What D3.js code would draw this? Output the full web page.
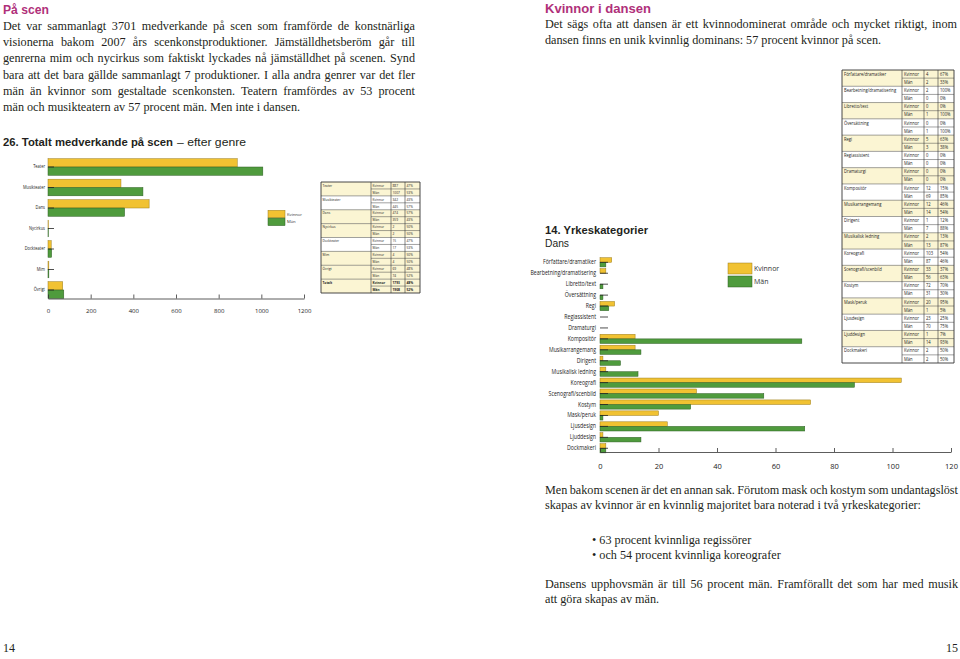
<!DOCTYPE html>
<html><head><meta charset="utf-8">
<script src="https://cdn.jsdelivr.net/npm/d3@7"></script>
<style>body{margin:0;background:#fff}svg{display:block}</style></head>
<body><svg id="c" width="960" height="659"></svg>
<script>
// ---------- DATA ----------
const genres = ["Teater","Musikteater","Dans","Nycirkus","Dockteater","Mim","Övrigt"];
const genreWomen = [887,342,474,2,15,4,69];
const genreMen = [1007,445,359,2,17,4,74];
const genreWomenPct = ["47%","43%","57%","50%","47%","50%","48%"];
const genreMenPct = ["53%","57%","43%","50%","53%","50%","52%"];
const genreTotal = {label:"Totalt", women:1793, men:1908, womenPct:"48%", menPct:"52%"};
const genreTicks = [0,200,400,600,800,1000,1200];

const occupations = ["Författare/dramatiker","Bearbetning/dramatisering","Libretto/text","Översättning","Regi","Regiassistent","Dramaturgi","Kompositör","Musikarrangemang","Dirigent","Musikalisk ledning","Koreografi","Scenografi/scenbild","Kostym","Mask/peruk","Ljusdesign","Ljuddesign","Dockmakeri"];
const occWomen = [4,2,0,0,5,0,0,12,12,1,2,103,33,72,20,23,1,2];
const occMen = [2,0,1,1,3,0,0,69,14,7,13,87,56,31,1,70,14,2];
const occWomenPct = ["67%","100%","0%","0%","63%","0%","0%","15%","46%","12%","13%","54%","37%","70%","95%","25%","7%","50%"];
const occMenPct = ["33%","0%","100%","100%","38%","0%","0%","85%","54%","88%","87%","46%","63%","30%","5%","75%","93%","50%"];
const occTicks = [0,20,40,60,80,100,120];

const seriesNames = ["Kvinnor","Män"];

const leftText = [
 "Det var sammanlagt 3701 medverkande på scen som framförde de konstnärliga",
 "visionerna bakom 2007 års scenkonstproduktioner. Jämställdhetsberöm går till",
 "genrerna mim och nycirkus som faktiskt lyckades nå jämställdhet på scenen. Synd",
 "bara att det bara gällde sammanlagt 7 produktioner. I alla andra genrer var det fler",
 "män än kvinnor som gestaltade scenkonsten. Teatern framfördes av 53 procent",
 "män och musikteatern av 57 procent män. Men inte i dansen."];
const rightText1 = [
 "Det sägs ofta att dansen är ett kvinnodominerat område och mycket riktigt, inom",
 "dansen finns en unik kvinnlig dominans: 57 procent kvinnor på scen."];
const rightText2 = [
 "Men bakom scenen är det en annan sak. Förutom mask och kostym som undantagslöst",
 "skapas av kvinnor är en kvinnlig majoritet bara noterad i två yrkeskategorier:"];
const bullets = ["63 procent kvinnliga regissörer","och 54 procent kvinnliga koreografer"];
const rightText3 = [
 "Dansens upphovsmän är till 56 procent män. Framförallt det som har med musik",
 "att göra skapas av män."];

// ---------- STYLE ----------
const SERIF = "'Liberation Serif','DejaVu Serif',serif";
const SANS = "'Open Sans','Noto Sans',sans-serif";
const HEAD = "'Liberation Sans','DejaVu Sans',sans-serif";
const MAG = "#b0307a";
const YEL = "#f1c232", YEL_S = "#9a7d1c";
const GRN = "#4f9b3d", GRN_S = "#2c5e22";
const INK = "#231f20";

const svg = d3.select("#c");
svg.append("rect").attr("width",960).attr("height",659).attr("fill","#fff");

function condense(sel, f){
  sel.each(function(){
    const L = this.getComputedTextLength();
    if(L>0) d3.select(this).attr("textLength", L*f).attr("lengthAdjust","spacingAndGlyphs");
  });
}
function para(lines, x, y0, lh, w, size, justifyLast){
  lines.forEach((s,i)=>{
    const t = svg.append("text").attr("x",x).attr("y",y0+i*lh)
      .attr("font-family",SERIF).attr("font-size",size).attr("fill",INK).text(s);
    if(i<lines.length-1 || justifyLast){
      const len = t.node().getComputedTextLength();
      const n = (s.match(/ /g)||[]).length;
      if(n>0) t.style("word-spacing", ((w-len)/n)+"px");
    }
  });
}
function heading(txt,x,y,w,size){
  svg.append("text").attr("x",x).attr("y",y).attr("font-family",HEAD).attr("font-weight",700)
    .attr("font-size",size).attr("fill",MAG).attr("textLength",w).attr("lengthAdjust","spacingAndGlyphs").text(txt);
}

// ---------- TEXT ----------
heading("På scen",3,14,46,13);
para(leftText,3,29.8,16.3,412,12.2,false);
heading("Kvinnor i dansen",545,13,106,13);
para(rightText1,545,28.3,16,412,12.2,false);
para(rightText2,545,494,15.3,413,12.2,false);
bullets.forEach((b,i)=>svg.append("text").attr("x",592).attr("y",544+i*14.5)
  .attr("font-family",SERIF).attr("font-size",12.2).attr("fill",INK).text("• "+b));
para(rightText3,545,587.5,15.3,413,12.2,false);
svg.append("text").attr("x",3).attr("y",652).attr("font-family",SERIF).attr("font-size",12).attr("fill",INK).text("14");
svg.append("text").attr("x",958).attr("y",652).attr("text-anchor","end").attr("font-family",SERIF).attr("font-size",12).attr("fill",INK).text("15");

// chart titles
svg.append("text").attr("x",3).attr("y",145.5).attr("font-family",HEAD).attr("font-size",11.5).attr("font-weight",700).attr("fill",INK)
  .attr("textLength",170).attr("lengthAdjust","spacingAndGlyphs").text("26. Totalt medverkande på scen");
svg.append("text").attr("x",177).attr("y",145.5).attr("font-family",HEAD).attr("font-size",11.5).attr("font-weight",400).attr("fill",INK)
  .attr("textLength",69).attr("lengthAdjust","spacingAndGlyphs").text("– efter genre");
svg.append("text").attr("x",545).attr("y",234.3).attr("font-family",HEAD).attr("font-size",11).attr("font-weight",700).attr("fill",INK)
  .attr("textLength",103).attr("lengthAdjust","spacingAndGlyphs").text("14. Yrkeskategorier");
svg.append("text").attr("x",545).attr("y",247.2).attr("font-family",HEAD).attr("font-size",11).attr("font-weight",400).attr("fill",INK)
  .attr("textLength",24).attr("lengthAdjust","spacingAndGlyphs").text("Dans");

// ---------- BAR CHART helper ----------
function barChart(cfg){
  const g = svg.append("g");
  const x = d3.scaleLinear().domain(cfg.domain).range(cfg.xr);
  const y = d3.scaleBand().domain(cfg.cats).range(cfg.yr);
  const bh = y.bandwidth()*cfg.frac;
  const data = cfg.cats.map((c,i)=>({c, w:cfg.women[i], m:cfg.men[i]}));
  g.selectAll("rect.w").data(data).join("rect").attr("class","w")
    .attr("x",x(0)).attr("y",d=>y(d.c)+y.bandwidth()/2-bh).attr("width",d=>x(d.w)-x(0)).attr("height",bh)
    .attr("fill",YEL).attr("stroke",YEL_S).attr("stroke-width",0.5);
  g.selectAll("rect.m").data(data).join("rect").attr("class","m")
    .attr("x",x(0)).attr("y",d=>y(d.c)+y.bandwidth()/2).attr("width",d=>x(d.m)-x(0)).attr("height",bh)
    .attr("fill",GRN).attr("stroke",GRN_S).attr("stroke-width",0.5);
  const ya = g.append("g").attr("transform",`translate(${x(0)},0)`)
    .call(d3.axisLeft(y).tickSize(-cfg.yTick).tickPadding(cfg.yPad));
  ya.select(".domain").remove();
  ya.selectAll("line").attr("stroke","#222").attr("stroke-width",0.8);
  ya.selectAll("text").attr("font-family",SANS).attr("font-size",cfg.catSize).attr("fill","#222");
  condense(ya.selectAll("text"), cfg.cond);
  const xa = g.append("g").attr("transform",`translate(0,${cfg.axisY})`)
    .call(d3.axisBottom(x).tickValues(cfg.ticks).tickFormat(d3.format("d")).tickSize(-4).tickSizeOuter(0).tickPadding(cfg.xPad));
  xa.selectAll("path,line").attr("stroke","#333").attr("stroke-width",0.8);
  xa.selectAll("text").attr("font-family",SANS).attr("font-size",cfg.tickSize).attr("fill","#222");
  // legend
  const lg = svg.append("g");
  seriesNames.forEach((s,i)=>{
    lg.append("rect").attr("x",cfg.leg.x).attr("y",cfg.leg.y+i*cfg.leg.step).attr("width",cfg.leg.w).attr("height",cfg.leg.h)
      .attr("fill",i?GRN:YEL).attr("stroke",i?GRN_S:YEL_S).attr("stroke-width",0.5);
    lg.append("text").attr("x",cfg.leg.x+cfg.leg.w+2).attr("y",cfg.leg.y+i*cfg.leg.step+cfg.leg.h/2).attr("dy","0.35em")
      .attr("font-family",SANS).attr("font-size",cfg.leg.fs).attr("fill","#333").text(s);
  });
}

barChart({cats:genres, women:genreWomen, men:genreMen, domain:[0,1200], ticks:genreTicks,
  xr:[48,304], yr:[156.75,300.25], frac:0.405, axisY:298.5, yTick:6, yPad:3, catSize:4.5, cond:0.88,
  xPad:10, tickSize:6,
  leg:{x:268,y:210.3,w:17,h:7.5,step:7.8,fs:4.2}});

barChart({cats:occupations, women:occWomen, men:occMen, domain:[0,120], ticks:occTicks,
  xr:[600,951], yr:[256.83,453.75], frac:0.42, axisY:452, yTick:8, yPad:4, catSize:6.2, cond:0.84,
  xPad:12, tickSize:7.5,
  leg:{x:728,y:263,w:24,h:11,step:13,fs:7}});

// ---------- TABLES ----------
function table(cfg){
  const g = svg.append("g");
  const rows = [];
  cfg.cats.forEach((c,i)=>{
    rows.push({block:i, label:c, sex:"Kvinnor", v:cfg.women[i], p:cfg.wp[i], bold:cfg.boldLast && i===cfg.cats.length-1});
    rows.push({block:i, label:"", sex:"Män", v:cfg.men[i], p:cfg.mp[i], bold:cfg.boldLast && i===cfg.cats.length-1});
  });
  const y = d3.scaleBand().domain(d3.range(rows.length)).range([cfg.top,cfg.bottom]);
  const cx = cfg.cols;
  cfg.cats.forEach((c,i)=>{
    g.append("rect").attr("x",cx[0]).attr("y",y(2*i)).attr("width",cx[4]-cx[0]).attr("height",2*y.bandwidth())
      .attr("fill",cfg.cream[i]?"#fbf5d3":"#fff");
  });
  rows.forEach((r,i)=>{
    if(i===0) return;
    const full = i%2===0;
    g.append("line").attr("x1",full?cx[0]:cx[1]).attr("x2",cx[4]).attr("y1",y(i)).attr("y2",y(i))
      .attr("stroke","#444").attr("stroke-width",0.5);
  });
  cx.forEach((c,j)=>{
    g.append("line").attr("x1",c).attr("x2",c).attr("y1",cfg.top).attr("y2",cfg.bottom)
      .attr("stroke","#333").attr("stroke-width",j===0||j===4?0.9:0.6);
  });
  g.append("line").attr("x1",cx[0]).attr("x2",cx[4]).attr("y1",cfg.top).attr("y2",cfg.top).attr("stroke","#333").attr("stroke-width",0.9);
  g.append("line").attr("x1",cx[0]).attr("x2",cx[4]).attr("y1",cfg.bottom).attr("y2",cfg.bottom).attr("stroke","#333").attr("stroke-width",0.9);
  const texts = [];
  rows.forEach((r,i)=>{
    const yy = y(i)+y.bandwidth()/2;
    [r.label,r.sex,r.v,r.p].forEach((t,j)=>{
      g.append("text").attr("class","tc").attr("x",cx[j]+cfg.pad).attr("y",yy).attr("dy","0.35em")
        .attr("font-family",SANS).attr("font-size",cfg.fs).attr("font-weight",r.bold?700:400).attr("fill","#222").text(t);
    });
  });
  condense(g.selectAll("text.tc"), 0.9);
}

table({cats:genres.concat([genreTotal.label]), women:genreWomen.concat([genreTotal.women]), men:genreMen.concat([genreTotal.men]),
  wp:genreWomenPct.concat([genreTotal.womenPct]), mp:genreMenPct.concat([genreTotal.menPct]),
  boldLast:true, top:182, bottom:293, cols:[321,371,391,405,420], pad:1.5, fs:3.6,
  cream:[1,0,1,1,0,1,1,1]});

table({cats:occupations, women:occWomen, men:occMen, wp:occWomenPct, mp:occMenPct,
  boldLast:false, top:70, bottom:363, cols:[842,902,924,938,954], pad:2, fs:4.6,
  cream:occupations.map((d,i)=>i%2===0?1:0)});
</script></body></html>
